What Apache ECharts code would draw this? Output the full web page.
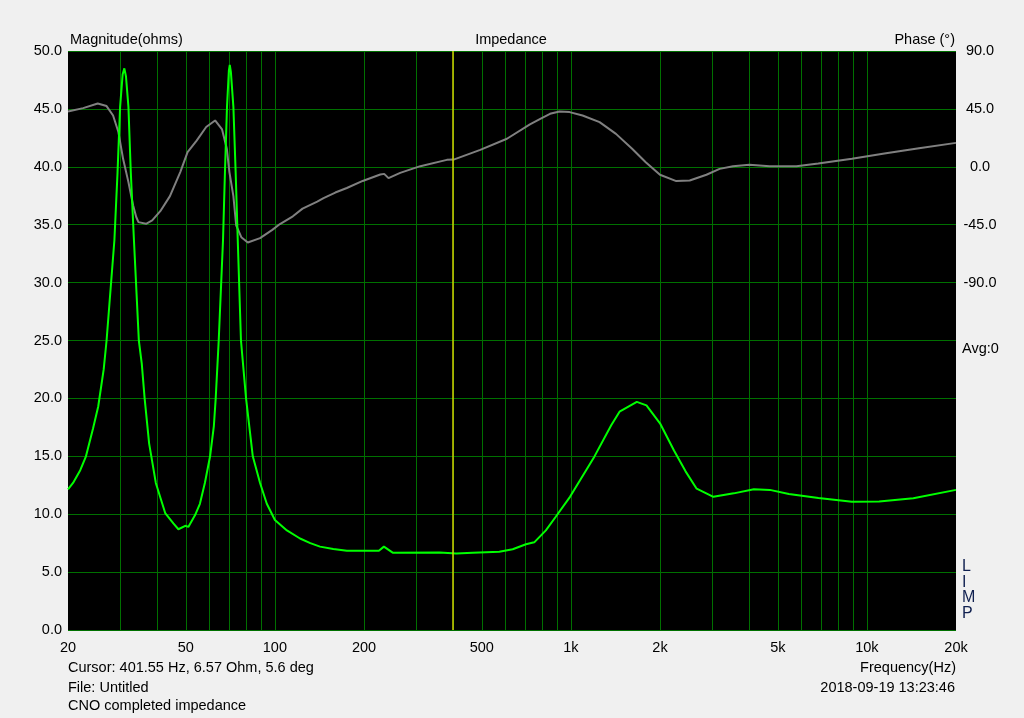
<!DOCTYPE html>
<html>
<head>
<meta charset="utf-8">
<script src="https://cdn.jsdelivr.net/npm/echarts@6/dist/echarts.min.js"></script>
<style>
  html, body { margin: 0; padding: 0; background: #f0f0f0; }
  #chart { width: 1024px; height: 718px; }
</style>
</head>
<body>
<div id="chart"></div>
<script>
// ---- data ----
const magFreq = [20, 20.8, 22.0, 23.0, 24.3, 25.3, 26.4, 27.0, 28.7, 29.4, 30.0, 30.6, 31.0, 31.4, 32.0, 32.6, 33.4, 34.7, 35.5, 36.3, 37.6, 39.6, 42.6, 45.4, 47.2, 49.8, 51.0, 53.7, 55.8, 58.0, 60.4, 62.2, 63.1, 64.6, 66.8, 67.8, 68.9, 69.9, 70.4, 71.0, 72.4, 73.7, 74.9, 76.8, 79.9, 84.2, 89.1, 93.9, 100, 109.8, 121.6, 131.7, 142, 157.5, 175, 224.6, 233.5, 250, 360, 410, 466, 573, 636, 705, 752, 823, 889, 993, 1200, 1370, 1460, 1670, 1800, 2000, 2230, 2440, 2660, 3030, 3550, 4150, 4700, 5450, 6860, 8900, 11000, 14350, 20000];
const magOhm = [12.15, 12.7, 13.8, 15.0, 17.4, 19.3, 22.5, 25.0, 33.7, 39.5, 45.2, 48.0, 48.5, 47.8, 45.2, 39.5, 33.7, 25.0, 23.0, 20.0, 16.1, 12.7, 10.1, 9.2, 8.7, 9.0, 8.9, 9.9, 10.9, 12.7, 15.0, 17.6, 20.0, 25.0, 33.7, 39.5, 45.2, 48.3, 48.8, 48.2, 45.2, 39.5, 33.7, 25.0, 20.0, 15.0, 12.7, 10.9, 9.5, 8.6, 7.9, 7.5, 7.2, 7.0, 6.85, 6.85, 7.2, 6.68, 6.7, 6.6, 6.68, 6.76, 6.97, 7.4, 7.57, 8.6, 9.78, 11.5, 14.97, 17.7, 18.85, 19.7, 19.4, 17.85, 15.5, 13.7, 12.2, 11.5, 11.8, 12.15, 12.1, 11.75, 11.4, 11.08, 11.1, 11.37, 12.1];

const phaseFreq = [20, 22.5, 25.2, 27.0, 28.4, 29.6, 30.7, 32.0, 33.2, 34.0, 34.6, 36.7, 38.5, 41.0, 44.2, 47.9, 50.7, 54.4, 58.6, 62.8, 66.3, 68.8, 70.2, 72.4, 74.0, 77.0, 81.0, 89.1, 98, 104, 115, 124, 139, 146, 160, 175, 198, 227, 234, 242, 265, 310, 381, 401.55, 494, 608, 727, 788, 850, 915, 990, 1095, 1250, 1420, 1610, 1790, 2000, 2270, 2520, 2870, 3180, 3530, 4010, 4690, 5780, 6850, 8900, 11600, 15000, 20000];
const phaseDeg = [43.0, 45.6, 49.2, 47.2, 39.9, 27.0, 6.2, -11.9, -30.1, -39.0, -43.0, -44.3, -41.7, -34.5, -22.8, -4.1, 11.4, 20.4, 30.9, 36.0, 29.0, 14.0, -4.1, -22.8, -45.6, -54.7, -58.8, -55.4, -49.0, -44.5, -38.5, -32.5, -27.0, -24.3, -20.0, -16.5, -11.0, -6.0, -5.5, -8.8, -4.7, 0.5, 5.4, 5.6, 13.2, 21.8, 33.0, 37.3, 41.2, 43.0, 42.5, 39.9, 34.7, 25.6, 14.0, 3.6, -6.2, -11.1, -10.6, -6.2, -1.6, 0.5, 1.6, 0.5, 0.5, 2.6, 6.2, 10.6, 14.5, 18.6];

const tickFreqs = [20, 50, 100, 200, 500, 1000, 2000, 5000, 10000, 20000];
const tickLabels = ['20', '50', '100', '200', '500', '1k', '2k', '5k', '10k', '20k'];
const gridFreqs = [30, 40, 50, 60, 70, 80, 90, 100, 200, 300, 400, 500, 600, 700, 800, 900, 1000, 2000, 3000, 4000, 5000, 6000, 7000, 8000, 9000, 10000];
const cursorFreq = 401.55;

// ---- chart ----
const L = Math.log10;
const FONT = '"Liberation Sans", Arial, sans-serif';
const FS = 14.5;
const chart = echarts.init(document.getElementById('chart'), null, { renderer: 'canvas' });

function txt(text, x, y, align, color, size) {
  return {
    type: 'text', x: x, y: y, silent: true,
    style: { text: text, align: align, verticalAlign: 'middle', fill: color || '#000',
             font: (size || FS) + 'px ' + FONT }
  };
}

const option = {
  animation: false,
  backgroundColor: '#f0f0f0',
  grid: { left: 68, right: 68, top: 51, bottom: 88, show: true, backgroundColor: '#000', borderWidth: 0, containLabel: false },
  xAxis: {
    type: 'value', min: L(20), max: L(20000),
    axisLine: { show: false },
    axisTick: { show: false, customValues: gridFreqs.map(L) },
    splitLine: { show: true, lineStyle: { color: '#007000', width: 1 } },
    axisLabel: {
      customValues: tickFreqs.map(L), margin: 10, color: '#000', fontSize: FS, fontFamily: FONT,
      hideOverlap: false, showMinLabel: true, showMaxLabel: true,
      formatter: function (v) {
        for (let i = 0; i < tickFreqs.length; i++) if (Math.abs(L(tickFreqs[i]) - v) < 1e-6) return tickLabels[i];
        return '';
      }
    }
  },
  yAxis: [
    {
      type: 'value', min: 0, max: 50, interval: 5, position: 'left',
      axisLine: { show: false }, axisTick: { show: false },
      splitLine: { show: true, lineStyle: { color: '#007000', width: 1 } },
      axisLabel: { margin: 6, color: '#000', fontSize: FS, fontFamily: FONT, formatter: v => v.toFixed(1) }
    },
    {
      type: 'value', min: -360, max: 90, interval: 45, position: 'right',
      axisLine: { show: false }, axisTick: { show: false }, splitLine: { show: false },
      axisLabel: { margin: 24, align: 'center', color: '#000', fontSize: FS, fontFamily: FONT,
                   formatter: v => (v >= -90 ? v.toFixed(1) : '') }
    }
  ],
  series: [
    {
      name: 'Phase', type: 'line', yAxisIndex: 1, symbol: 'none', z: 2,
      lineStyle: { color: '#808080', width: 2 },
      data: phaseFreq.map((f, i) => [L(f), phaseDeg[i]]),
      markLine: {
        silent: true, symbol: ['none', 'none'], label: { show: false },
        lineStyle: { color: '#d2d200', width: 1.5, type: 'solid' },
        data: [{ xAxis: L(cursorFreq) }]
      }
    },
    {
      name: 'Magnitude', type: 'line', yAxisIndex: 0, symbol: 'none', z: 3,
      lineStyle: { color: '#00ff00', width: 2 },
      data: magFreq.map((f, i) => [L(f), magOhm[i]])
    }
  ],
  graphic: [
    txt('Magnitude(ohms)', 70, 40, 'left'),
    txt('Impedance', 511, 40, 'center'),
    txt('Phase (°)', 955, 40, 'right'),
    txt('Avg:0', 962, 349, 'left'),
    txt('L', 962, 567, 'left', '#102050', 16),
    txt('I', 962, 583, 'left', '#102050', 16),
    txt('M', 962, 598, 'left', '#102050', 16),
    txt('P', 962, 614, 'left', '#102050', 16),
    txt('Cursor: 401.55 Hz, 6.57 Ohm, 5.6 deg', 68, 668, 'left'),
    txt('Frequency(Hz)', 956, 668, 'right'),
    txt('File: Untitled', 68, 688, 'left'),
    txt('2018-09-19 13:23:46', 955, 688, 'right'),
    txt('CNO completed impedance', 68, 706, 'left')
  ]
};
chart.setOption(option);
</script>
</body>
</html>
